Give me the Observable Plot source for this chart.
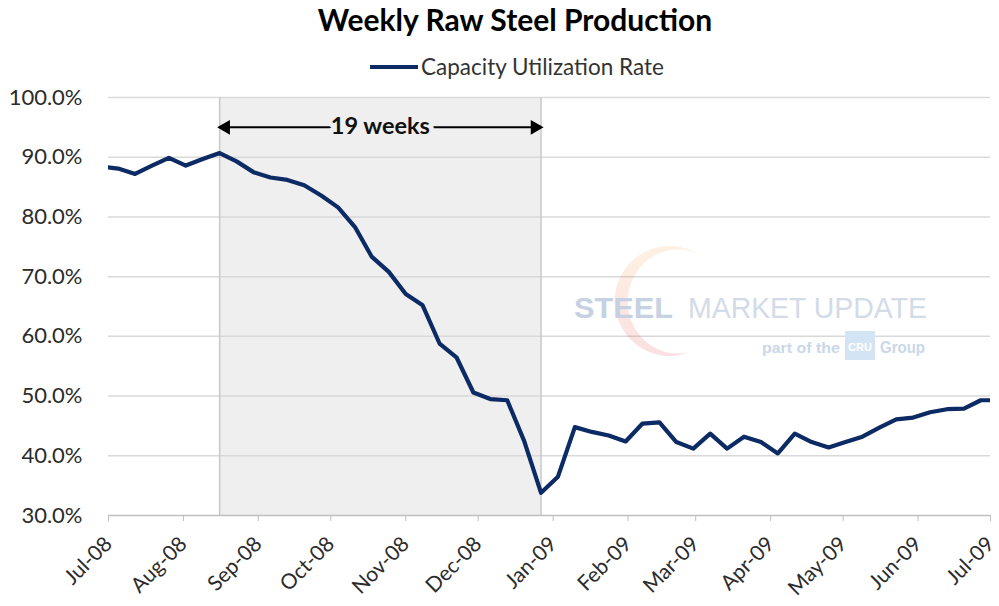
<!DOCTYPE html>
<html>
<head>
<meta charset="utf-8">
<script src="https://cdn.jsdelivr.net/npm/d3@7"></script>
<script src="https://cdn.jsdelivr.net/npm/@observablehq/plot@0.6"></script>
<style>
  body { margin: 0; background: #fff; font-family: Lato, "Open Sans", sans-serif; }
  #wrap { position: relative; width: 999px; height: 606px; overflow: hidden; }
  #title { position: absolute; top: 1px; left: 0; width: 1030px; text-align: center; font-weight: bold; font-size: 30px; color: #000; }
  #legend { position: absolute; top: 53px; left: 370px; display: flex; align-items: center; font-size: 22.5px; color: #333; }
  #legend .sw { width: 48px; height: 4px; background: #0c2a63; margin-right: 3px; }
  #chart { position: absolute; top: 84px; left: 0; }
  #logo { position: absolute; left: 0; top: 0; pointer-events: none; }
</style>
</head>
<body>
<div id="wrap">
  <div id="title">Weekly Raw Steel Production</div>
  <div id="legend"><div class="sw"></div><span>Capacity Utilization Rate</span></div>
  <div id="chart"></div>
  <svg id="logo" width="999" height="606">
    <defs>
      <linearGradient id="arcg" x1="0" y1="0" x2="0" y2="1">
        <stop offset="0" stop-color="#f6a23a"/>
        <stop offset="1" stop-color="#e0303a"/>
      </linearGradient>
    </defs>
    <path d="M700,255 A55,55 0 1 0 690,352 A50,52 0 1 1 700,255 Z" fill="url(#arcg)" opacity="0.15"/>
    <text x="574" y="318" textLength="99" lengthAdjust="spacingAndGlyphs" font-family="Liberation Sans, Arial, sans-serif" font-weight="bold" font-size="29" fill="#c6d1e2">STEEL</text>
    <text x="688" y="318" textLength="239" lengthAdjust="spacingAndGlyphs" font-family="Liberation Sans, Arial, sans-serif" font-size="29" fill="#d3dbe8">MARKET UPDATE</text>
    <text x="762" y="353" textLength="78" lengthAdjust="spacingAndGlyphs" font-family="Liberation Sans, Arial, sans-serif" font-weight="bold" font-size="15" fill="#cbd7e8">part of the</text>
    <rect x="845" y="331" width="30" height="29" fill="#d3e5f4"/>
    <text x="860" y="351" text-anchor="middle" font-family="Liberation Sans, Arial, sans-serif" font-weight="bold" font-size="11" fill="#ffffff">CRU</text>
    <text x="880" y="353" textLength="45" lengthAdjust="spacingAndGlyphs" font-family="Liberation Sans, Arial, sans-serif" font-weight="bold" font-size="16" fill="#cbd7e8">Group</text>
  </svg>
</div>
<script>
// Week-ending dates (Saturdays)
const weekEnding = [
  "2008-06-28","2008-07-05","2008-07-12","2008-07-19","2008-07-26",
  "2008-08-02","2008-08-09","2008-08-16","2008-08-23","2008-08-30",
  "2008-09-06","2008-09-13","2008-09-20","2008-09-27",
  "2008-10-04","2008-10-11","2008-10-18","2008-10-25",
  "2008-11-01","2008-11-08","2008-11-15","2008-11-22","2008-11-29",
  "2008-12-06","2008-12-13","2008-12-20","2008-12-27",
  "2009-01-03","2009-01-10","2009-01-17","2009-01-24","2009-01-31",
  "2009-02-07","2009-02-14","2009-02-21","2009-02-28",
  "2009-03-07","2009-03-14","2009-03-21","2009-03-28",
  "2009-04-04","2009-04-11","2009-04-18","2009-04-25",
  "2009-05-02","2009-05-09","2009-05-16","2009-05-23","2009-05-30",
  "2009-06-06","2009-06-13","2009-06-20","2009-06-27","2009-07-04"
];
// Capacity utilization rate, %
const utilization = [
  88.4, 88.1, 87.2, 88.6, 89.9,
  88.6, 89.7, 90.7, 89.3, 87.5,
  86.6, 86.2, 85.3, 83.6,
  81.6, 78.3, 73.3, 70.8,
  67.1, 65.2, 58.8, 56.5, 50.6,
  49.5, 49.3, 42.5, 33.8,
  36.5, 44.8, 44.0, 43.4, 42.4,
  45.4, 45.6, 42.3, 41.2,
  43.7, 41.2, 43.2, 42.3,
  40.4, 43.7, 42.3, 41.4,
  42.3, 43.2, 44.7, 46.1, 46.4,
  47.3, 47.8, 47.9, 49.3, 49.3
];
const seriesName = "Capacity Utilization Rate";
const xDomain = ["2008-07-01", "2009-07-01"];
const yTicks = [30, 40, 50, 60, 70, 80, 90, 100];
const periodStart = "2008-08-16";
const periodEnd = "2008-12-27";
const periodLabel = "19 weeks";
const periodLabelY = 95;

const data = weekEnding.map((d, i) => ({date: new Date(d), value: utilization[i]}));
const monthTicks = d3.utcMonth.range(new Date(xDomain[0]), d3.utcDay.offset(new Date(xDomain[1]), 1));
const pStart = new Date(periodStart), pEnd = new Date(periodEnd);
const pMid = new Date((+pStart + +pEnd) / 2);

const chart = Plot.plot({
  width: 999,
  height: 522,
  marginTop: 13,
  marginBottom: 91,
  marginLeft: 108,
  marginRight: 9,
  style: {fontFamily: "Lato, 'Open Sans', sans-serif", fontSize: "21px", color: "#2b2b2b", background: "transparent", overflow: "visible"},
  x: {type: "utc", domain: xDomain.map(d => new Date(d)), label: null},
  y: {domain: [30, 100], label: null},
  marks: [
    Plot.rect([{x1: pStart, x2: pEnd}], {x1: "x1", x2: "x2", y1: 30, y2: 100, fill: "#efefef"}),
    Plot.gridY(yTicks.filter(t => t > 30), {stroke: "#d9d9d9", strokeOpacity: 1, strokeWidth: 1.5}),
    Plot.ruleX([pStart, pEnd], {y1: 30, y2: 100, stroke: "#c8c8c8", strokeWidth: 1.5}),
    Plot.ruleY([30], {stroke: "#bfbfbf", strokeWidth: 1.5}),
    Plot.axisY({ticks: yTicks, tickFormat: d => d.toFixed(1) + "%", tickSize: 0, tickPadding: 26, fontSize: 22, label: null}),
    Plot.axisX({ticks: monthTicks, tickFormat: d3.utcFormat("%b-%y"), tickRotate: -45, tickSize: 6, tickPadding: 19, stroke: "#bfbfbf", label: null}),
    Plot.line(data, {x: "date", y: "value", stroke: "#0c2a63", strokeWidth: 4.2, clip: true, strokeLinejoin: "round"}),
    Plot.link([{a: pStart, b: pEnd}], {x1: "a", x2: "b", y1: periodLabelY, y2: periodLabelY, stroke: "#000", strokeWidth: 2}),
    Plot.dot([{d: pStart, r: -90}], {x: "d", y: periodLabelY, symbol: "triangle", rotate: "r", r: 5.5, fill: "#000", dx: 6}),
    Plot.dot([{d: pEnd, r: 90}], {x: "d", y: periodLabelY, symbol: "triangle", rotate: "r", r: 5.5, fill: "#000", dx: -6}),
    Plot.text([periodLabel], {x: pMid, y: periodLabelY, text: d => d, fontWeight: "bold", fontSize: 23.5, fill: "#111", stroke: "#efefef", strokeWidth: 10, dy: -1})
  ]
});
document.getElementById("chart").appendChild(chart);
</script>
</body>
</html>
